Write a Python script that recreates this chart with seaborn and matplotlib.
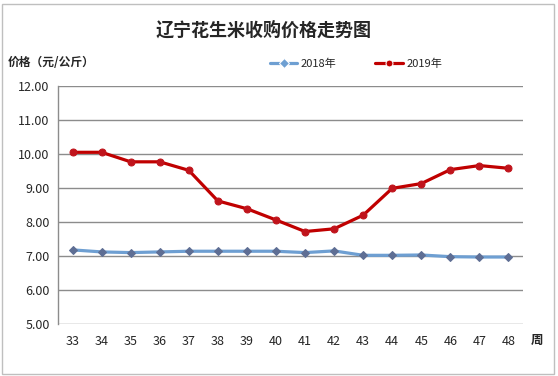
import matplotlib
matplotlib.use("Agg")
import matplotlib.pyplot as plt
import seaborn as sns
import pandas as pd
from matplotlib.patches import Rectangle

weeks = ["33", "34", "35", "36", "37", "38", "39", "40", "41", "42", "43", "44", "45", "46", "47", "48"]
price_2018 = [7.18, 7.12, 7.10, 7.12, 7.14, 7.14, 7.14, 7.14, 7.10, 7.15, 7.02, 7.02, 7.03, 6.98, 6.97, 6.97]
price_2019 = [10.05, 10.05, 9.77, 9.77, 9.52, 8.62, 8.39, 8.06, 7.72, 7.80, 8.20, 8.99, 9.13, 9.54, 9.66, 9.58]
series_names = ["2018年", "2019年"]
yticks = [5.0, 6.0, 7.0, 8.0, 9.0, 10.0, 11.0, 12.0]

df = pd.DataFrame({
    "week": weeks * 2,
    "price": price_2018 + price_2019,
    "year": [series_names[0]] * len(weeks) + [series_names[1]] * len(weeks),
})

sns.set_theme(style="white")
plt.rcParams['font.family'] = ['Noto Sans CJK SC', 'DejaVu Sans']

fig = plt.figure(figsize=(5.58, 3.76), dpi=100)
W, H = 558, 376
ax = fig.add_axes([58 / W, 1 - 324 / H, (523 - 58) / W, (324 - 86) / H])

palette = {series_names[0]: "#6E9FD2", series_names[1]: "#C00000"}
markers = {series_names[0]: "D", series_names[1]: "o"}
sns.lineplot(data=df, x="week", y="price", hue="year", style="year",
             palette=palette, markers=markers, dashes=False, lw=2.3,
             markersize=5, ax=ax, sort=False, legend=True)

for line, name in zip(ax.lines[:2], series_names):
    if name == series_names[0]:
        line.set_markerfacecolor("#5E6E94")
        line.set_markeredgecolor("#5E6E94")
        line.set_markersize(4)
    else:
        line.set_markerfacecolor("#C0141C")
        line.set_markeredgecolor("#C0141C")

ax.set_ylim(5, 12)
ax.set_xlim(-0.5, len(weeks) - 0.5)
ax.set_yticks(yticks)
ax.set_yticklabels([f"{v:.2f}" for v in yticks], fontsize=9)
ax.tick_params(axis="x", labelsize=9, pad=8, length=0)
ax.tick_params(axis="y", length=0, pad=6)
ax.grid(axis="y", color="#8C8C8C", lw=1)
ax.set_axisbelow(True)
for s in ["top", "right", "bottom"]:
    ax.spines[s].set_visible(False)
ax.spines["left"].set_color("#8C8C8C")
ax.spines["left"].set_linewidth(1)
ax.set_xlabel("")
ax.set_ylabel("")

handles, labels = ax.get_legend_handles_labels()
ax.legend(handles, labels, loc="center", bbox_to_anchor=(356 / W, 1 - 64 / H),
          bbox_transform=fig.transFigure, ncol=2, frameon=False, fontsize=8,
          columnspacing=3.5, handlelength=2.5, handletextpad=0.3)

fig.text(264 / W, 1 - 30 / H, "辽宁花生米收购价格走势图", ha="center", va="center",
         fontsize=13, fontweight="bold")
fig.text(8 / W, 1 - 63 / H, "价格（元/公斤）", ha="left", va="center",
         fontsize=8.5, fontweight="bold")
fig.text(537 / W, 1 - 340 / H, "周", ha="center", va="center",
         fontsize=9, fontweight="bold")

fig.patches.append(Rectangle((2 / W, 2 / H), 1 - 6 / W, 1 - 6 / H, transform=fig.transFigure,
                             fill=False, edgecolor="#BFBFBF", lw=1))

fig.savefig("out.png", dpi=100)
